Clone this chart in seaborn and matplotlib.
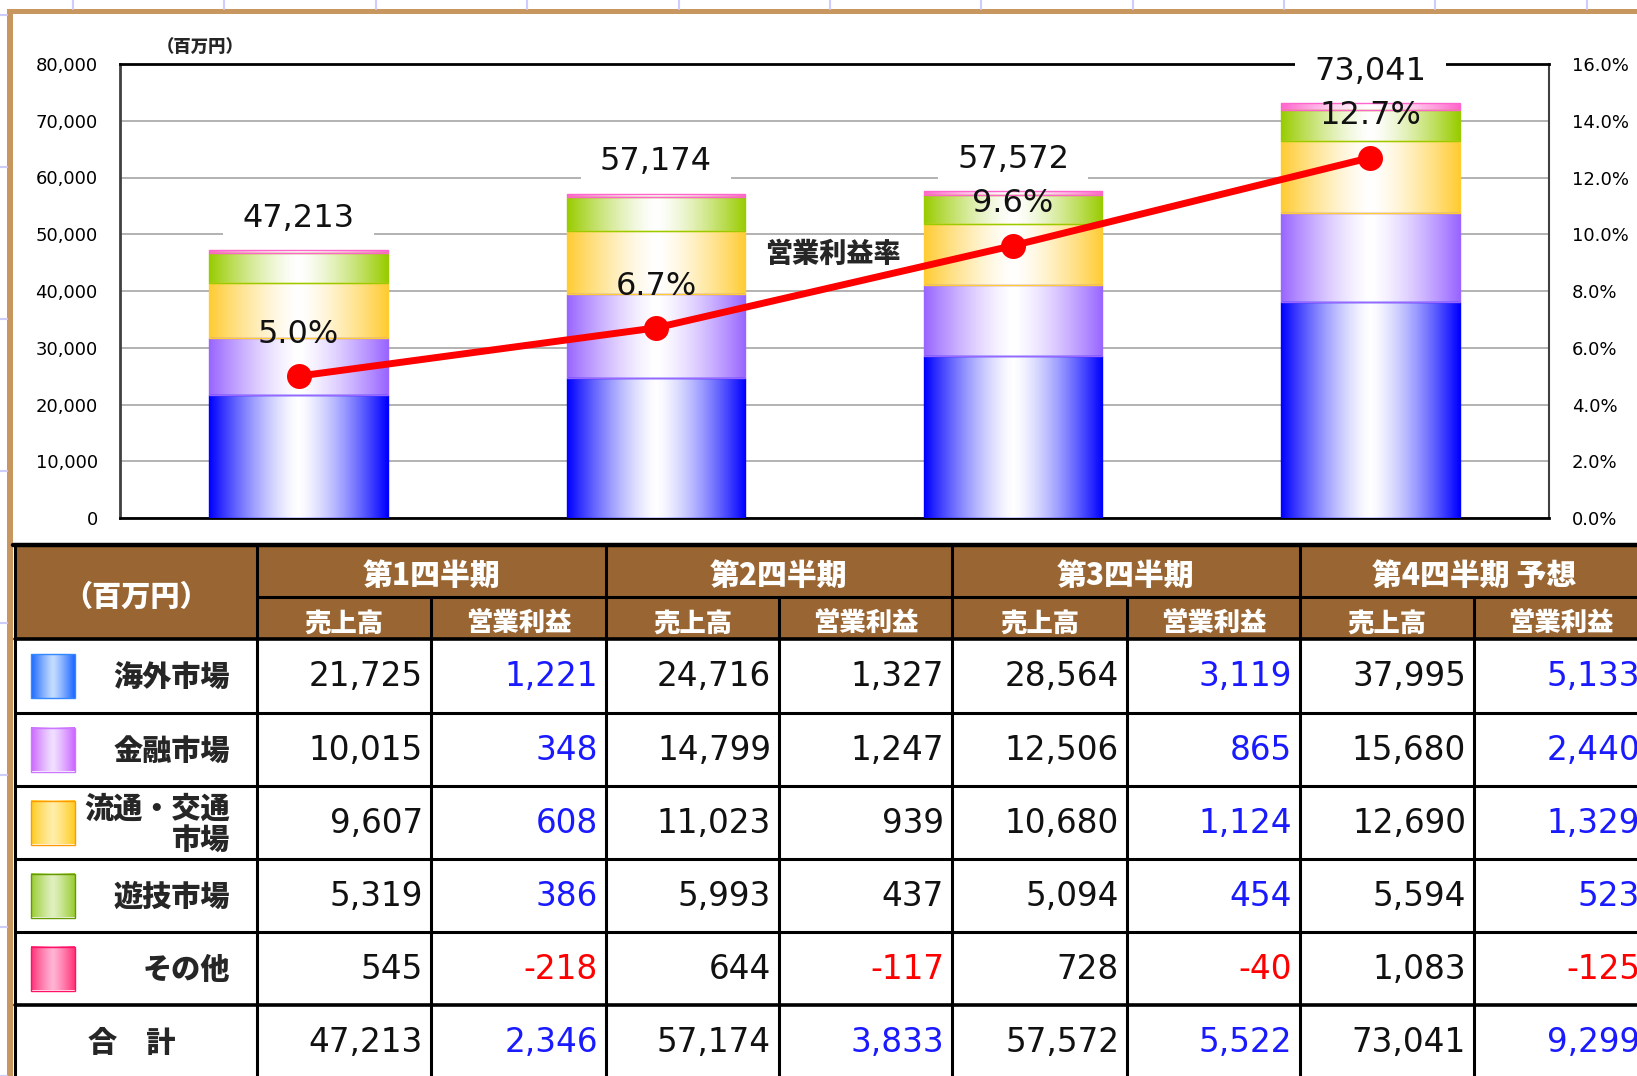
import numpy as np
import matplotlib
matplotlib.use('Agg')
import matplotlib.pyplot as plt
import seaborn as sns
from matplotlib.colors import to_rgb
from matplotlib.patches import Rectangle
from matplotlib.ticker import FuncFormatter

# Data (百万円)
quarters = ['第1四半期', '第2四半期', '第3四半期', '第4四半期']
quarter_headers = ['第1四半期', '第2四半期', '第3四半期', '第4四半期 予想']
sub_headers = ['売上高', '営業利益']
segments = ['海外市場', '金融市場', '流通・交通\n市場', '遊技市場', 'その他']

sales_overseas = [21725, 24716, 28564, 37995]
sales_finance = [10015, 14799, 12506, 15680]
sales_distribution = [9607, 11023, 10680, 12690]
sales_amusement = [5319, 5993, 5094, 5594]
sales_other = [545, 644, 728, 1083]
sales_total = [47213, 57174, 57572, 73041]

profit_overseas = [1221, 1327, 3119, 5133]
profit_finance = [348, 1247, 865, 2440]
profit_distribution = [608, 939, 1124, 1329]
profit_amusement = [386, 437, 454, 523]
profit_other = [-218, -117, -40, -125]
profit_total = [2346, 3833, 5522, 9299]

margin_pct = [5.0, 6.7, 9.6, 12.7]

# which quarters show positive segment profits in blue
profit_blue = [True, False, True, True]

sales_rows = [sales_overseas, sales_finance, sales_distribution, sales_amusement, sales_other]
profit_rows = [profit_overseas, profit_finance, profit_distribution, profit_amusement, profit_other]

bar_colors = ['#0000ff', '#9966ff', '#ffcc33', '#99cc00', '#ff66cc']
swatch_colors = [('#1a66ff', '#c4dcff', '#3388ff'),
                 ('#cc66ff', '#f0e0ff', '#cc77ff'),
                 ('#ffcc22', '#ffeeaa', '#ff9900'),
                 ('#99cc33', '#e0f0c0', '#669900'),
                 ('#ff3377', '#ffb4d4', '#ff1166')]

sns.set_theme(style='white')
plt.rcParams['font.family'] = ['Noto Sans CJK JP', 'DejaVu Sans']

W, H = 1637, 1076
fig = plt.figure(figsize=(W / 100, H / 100), dpi=100)
fig.patch.set_facecolor('white')

HEAVY = 'black'
NUM_FONT = 'DejaVu Sans'


def fig_rect(x0, y0, x1, y1):
    # pixel box (top-left origin) -> figure fraction
    return [x0 / W, 1 - y1 / H, (x1 - x0) / W, (y1 - y0) / H]


def gradient(edge, center, n=200, p=1.4):
    t = np.abs(np.linspace(-1, 1, n)) ** p
    e, c = np.array(to_rgb(edge)), np.array(to_rgb(center))
    return (c[None, :] + np.outer(t, e - c))[None, :, :]


def gradient_fill(ax, patch, color, zorder=3):
    x0, y0 = patch.get_x(), patch.get_y()
    w, h = patch.get_width(), patch.get_height()
    im = ax.imshow(gradient(color, 'white'), extent=(x0, x0 + w, y0, y0 + h),
                   aspect='auto', interpolation='bilinear', zorder=zorder)
    im.set_clip_path(patch)
    patch.set_facecolor('none')
    patch.set_zorder(zorder + 0.1)


# ---- chart ----
ax = fig.add_axes(fig_rect(120, 64, 1549, 518))
bottom = np.zeros(len(quarters))
for vals, col in zip(sales_rows, bar_colors):
    n0 = len(ax.patches)
    sns.barplot(x=quarters, y=vals, bottom=bottom, color=col, saturation=1,
                width=0.5, errorbar=None, edgecolor=col, linewidth=1, ax=ax)
    for p in ax.patches[n0:]:
        gradient_fill(ax, p, col)
    bottom = bottom + np.array(vals)

ax.set_ylim(0, 80000)
ax.set_yticks(range(0, 80001, 10000))
ax.yaxis.set_major_formatter(FuncFormatter(lambda v, _: f'{v:,.0f}'))
ax.set_axisbelow(True)
ax.yaxis.grid(True, color='#a6a6a6', linewidth=1.2)
ax.xaxis.grid(False)
ax.set_xlabel('')
ax.set_ylabel('')
ax.tick_params(axis='x', bottom=False, labelbottom=False)
ax.tick_params(axis='y', length=0, pad=16, labelsize=13,
               labelfontfamily=NUM_FONT, labelcolor='black')
for side, col, lw in [('top', 'black', 2), ('bottom', 'black', 2),
                      ('left', '#404040', 2), ('right', '#404040', 1.5)]:
    ax.spines[side].set_visible(True)
    ax.spines[side].set_color(col)
    ax.spines[side].set_linewidth(lw)

for i, tot in enumerate(sales_total):
    ax.annotate(f'{tot:,}', xy=(i, tot), xytext=(0, 23), textcoords='offset points',
                ha='center', va='center', fontsize=23, family=NUM_FONT,
                color='#111111', zorder=2.8,
                bbox=dict(boxstyle='square,pad=0.6', fc='white', ec='none'))

ax2 = ax.twinx()
sns.lineplot(x=quarters, y=margin_pct, ax=ax2, color='#ff0000', linewidth=5,
             marker='o', markersize=18, markeredgewidth=0, zorder=5)
ax2.set_ylim(0, 16)
ax2.set_yticks(np.arange(0, 16.1, 2))
ax2.yaxis.set_major_formatter(FuncFormatter(lambda v, _: f'{v:.1f}%'))
ax2.tick_params(axis='y', length=0, pad=16.5, labelsize=13,
                labelfontfamily=NUM_FONT, labelcolor='black')
ax2.set_xlabel('')
ax2.set_ylabel('')
ax2.grid(False)
for s in ax2.spines.values():
    s.set_visible(False)
for i, m in enumerate(margin_pct):
    ax2.annotate(f'{m:.1f}%', xy=(i, m), xytext=(0, 30), textcoords='offset points',
                 ha='center', va='center', fontsize=23, family=NUM_FONT,
                 color='#111111', zorder=6)
ax.set_xlim(-0.5, 3.5)

# ---- overlay: sheet, labels, table ----
ov = fig.add_axes([0, 0, 1, 1])
ov.set_xlim(0, W)
ov.set_ylim(H, 0)
ov.axis('off')

grid_c = '#ccccff'
for x in [73, 224, 376, 527, 679, 830, 981, 1133, 1284, 1435, 1587]:
    ov.plot([x, x], [0, 9], color=grid_c, lw=1.5)
for y in [15, 167, 319, 471, 623, 775, 927, 1076]:
    ov.plot([0, 7], [y, y], color=grid_c, lw=1.5)
ov.add_patch(Rectangle((7, 9), 6, H - 9, fc='#c8965f', ec='none'))
ov.add_patch(Rectangle((7, 9), W - 7, 5, fc='#c8965f', ec='none'))

ov.text(200, 48, '（百万円）', ha='center', va='center', fontsize=12.5, weight=HEAVY)
ov.text(833, 254, '営業利益率', ha='center', va='center', fontsize=19.5, weight=HEAVY)

col_edges = [15, 257, 431, 606, 779, 952, 1127, 1300, 1474, 1648]
row_edges = [545, 597, 639, 713, 786, 859, 932, 1005, 1078]
brown = '#996633'
ov.add_patch(Rectangle((15, 545), W - 15, 639 - 545, fc=brown, ec='none'))

lw_t = 2.2
ov.plot([13, W], [545, 545], color='black', lw=3.2)
ov.plot([257, W], [597, 597], color='black', lw=lw_t)
ov.plot([15, W], [639, 639], color='black', lw=2.6)
for y in row_edges[3:7]:
    ov.plot([15, W], [y, y], color='black', lw=lw_t)
ov.plot([15, W], [1005, 1005], color='black', lw=2.6)
for x in [15, 257, 606, 952, 1300]:
    ov.plot([x, x], [545, H], color='black', lw=lw_t)
for x in [431, 779, 1127, 1474]:
    ov.plot([x, x], [597, H], color='black', lw=lw_t)

# header text
ov.text(136, 597, '（百万円）', ha='center', va='center', fontsize=21,
        weight=HEAVY, color='white')
for k, qh in enumerate(quarter_headers):
    cx = (col_edges[1 + 2 * k] + col_edges[3 + 2 * k]) / 2
    ov.text(cx, 575, qh, ha='center', va='center', fontsize=21.5,
            weight=HEAVY, color='white')
    for j, sh in enumerate(sub_headers):
        sx = (col_edges[1 + 2 * k + j] + col_edges[2 + 2 * k + j]) / 2
        ov.text(sx, 623, sh, ha='center', va='center', fontsize=19,
                weight=HEAVY, color='white')

# body rows
for r, name in enumerate(segments):
    y0, y1 = row_edges[2 + r], row_edges[3 + r]
    cy = (y0 + y1) / 2
    edge, center, border = swatch_colors[r]
    ov.imshow(gradient(edge, center, p=1.2), extent=(31, 75, cy + 22, cy - 22),
              aspect='auto', interpolation='bilinear', zorder=3)
    ov.add_patch(Rectangle((31, cy - 22), 44, 44, fc='none', ec=border, lw=1, zorder=4))
    ov.text(230, cy + 2, name, ha='right', va='center', multialignment='right',
            fontsize=21, weight=HEAVY, linespacing=1.1)
    for k in range(len(quarters)):
        s = sales_rows[r][k]
        pr = profit_rows[r][k]
        ov.text(col_edges[2 + 2 * k] - 8, cy + 1, f'{s:,}', ha='right', va='center',
                fontsize=23.5, family=NUM_FONT, color='#111111')
        pc = '#ff0000' if pr < 0 else ('#1a1aff' if profit_blue[k] else '#111111')
        ov.text(col_edges[3 + 2 * k] - 8, cy + 1, f'{pr:,}', ha='right', va='center',
                fontsize=23.5, family=NUM_FONT, color=pc)

cy = (row_edges[7] + row_edges[8]) / 2
ov.text(132, cy + 2, '合　計', ha='center', va='center', fontsize=21, weight=HEAVY)
for k in range(len(quarters)):
    ov.text(col_edges[2 + 2 * k] - 8, cy + 1, f'{sales_total[k]:,}', ha='right',
            va='center', fontsize=23.5, family=NUM_FONT, color='#111111')
    ov.text(col_edges[3 + 2 * k] - 8, cy + 1, f'{profit_total[k]:,}', ha='right',
            va='center', fontsize=23.5, family=NUM_FONT, color='#1a1aff')

ov.set_xlim(0, W)
ov.set_ylim(H, 0)

fig.savefig('out.png', dpi=100)
